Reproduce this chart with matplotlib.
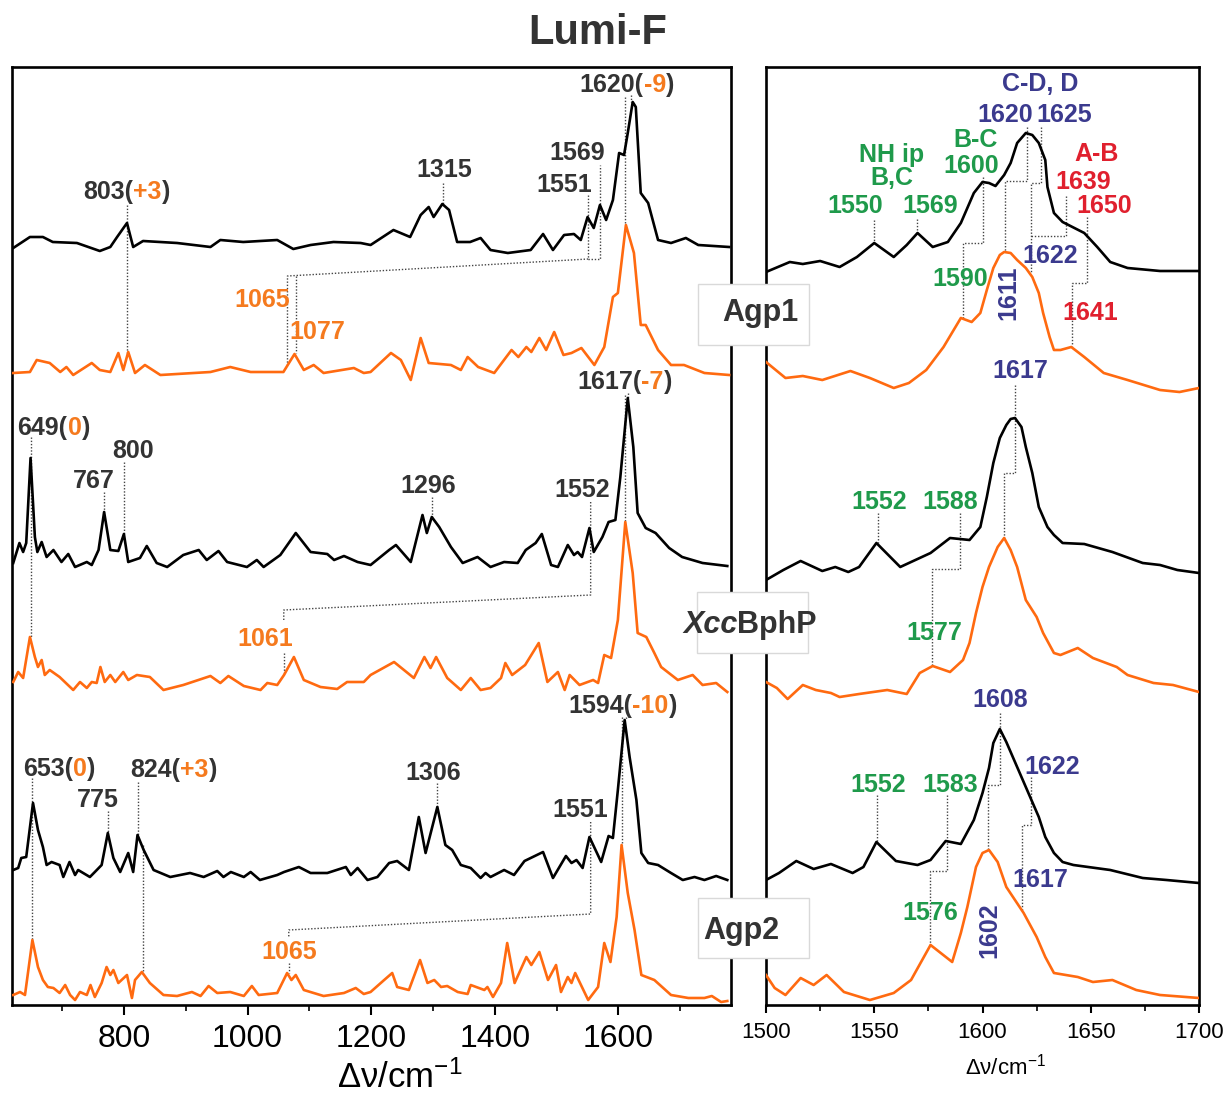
import numpy as np
import matplotlib.pyplot as plt
from matplotlib import font_manager
from matplotlib.patches import Rectangle

# ---- spectra: (wavenumber cm-1, relative intensity) ----
agp1_black_full = [(621, 7), (648, 18), (669, 18), (685, 13), (724, 12), (761, 4), (778, 8), (789, 18),
                   (805, 32), (815, 8), (831, 14), (886, 12), (940, 8), (956, 15), (993, 13), (1048, 15),
                   (1074, 6), (1102, 10), (1139, 13), (1183, 12), (1199, 10), (1236, 25), (1263, 18),
                   (1280, 40), (1293, 48), (1301, 38), (1315, 51), (1326, 45), (1339, 13), (1360, 13),
                   (1377, 17), (1393, 5), (1421, 2), (1458, 5), (1478, 21), (1494, 5), (1512, 20),
                   (1528, 21), (1539, 15), (1550, 38), (1560, 27), (1570, 50), (1580, 35), (1591, 55),
                   (1601, 102), (1609, 100), (1615, 122), (1623, 153), (1628, 148), (1636, 62),
                   (1648, 52), (1664, 15), (1685, 12), (1709, 17), (1729, 10), (1779, 8)]
agp1_orange_full = [(621, 7), (648, 8), (659, 20), (680, 17), (697, 8), (707, 13), (718, 5), (748, 17),
                    (761, 10), (778, 8), (791, 27), (799, 10), (807, 28), (818, 7), (834, 15), (859, 5),
                    (940, 8), (972, 13), (1005, 8), (1058, 8), (1066, 16), (1076, 26), (1091, 10),
                    (1107, 15), (1123, 7), (1172, 12), (1188, 7), (1199, 8), (1232, 27), (1248, 20),
                    (1264, 0), (1280, 42), (1293, 17), (1329, 15), (1345, 10), (1356, 23), (1373, 13),
                    (1399, 7), (1427, 30), (1438, 23), (1451, 33), (1459, 28), (1472, 42), (1483, 30),
                    (1496, 48), (1511, 25), (1524, 27), (1540, 32), (1561, 15), (1577, 33), (1591, 83),
                    (1599, 87), (1612, 155), (1625, 127), (1636, 55), (1644, 55), (1664, 30), (1685, 15),
                    (1706, 15), (1739, 7), (1779, 5)]
xcc_black_full = [(621, 7), (631, 27), (637, 18), (642, 27), (649, 112), (656, 33), (660, 18), (667, 28),
                  (675, 13), (686, 20), (699, 8), (710, 16), (721, 3), (740, 8), (748, 5), (759, 20),
                  (768, 58), (778, 20), (791, 19), (800, 36), (807, 8), (826, 12), (837, 24), (853, 7),
                  (870, 3), (896, 15), (921, 20), (934, 10), (953, 19), (967, 8), (999, 3), (1015, 10),
                  (1026, 3), (1053, 15), (1078, 37), (1102, 18), (1129, 16), (1140, 10), (1156, 14),
                  (1178, 8), (1199, 5), (1229, 20), (1240, 25), (1264, 8), (1283, 55), (1290, 37),
                  (1298, 53), (1310, 43), (1329, 23), (1348, 7), (1372, 13), (1393, 3), (1415, 8),
                  (1437, 7), (1450, 20), (1466, 27), (1476, 36), (1491, 5), (1502, 3), (1518, 25),
                  (1528, 15), (1534, 18), (1541, 13), (1553, 42), (1560, 18), (1574, 33), (1584, 48),
                  (1595, 50), (1603, 93), (1615, 172), (1624, 123), (1631, 57), (1644, 42), (1660, 37),
                  (1682, 22), (1703, 13), (1736, 7), (1776, 4)]
xcc_orange_full = [(621, 13), (629, 23), (637, 17), (648, 58), (656, 38), (661, 28), (667, 35), (672, 20),
                   (680, 25), (696, 18), (718, 5), (729, 13), (740, 7), (748, 13), (756, 12), (762, 28),
                   (769, 13), (778, 20), (786, 13), (799, 23), (807, 15), (821, 20), (842, 18), (864, 5),
                   (896, 10), (940, 19), (956, 12), (969, 19), (994, 9), (1021, 5), (1032, 12), (1048, 10),
                   (1059, 20), (1075, 38), (1091, 15), (1118, 8), (1145, 6), (1161, 13), (1188, 13),
                   (1199, 20), (1237, 33), (1253, 25), (1269, 17), (1286, 38), (1296, 27), (1305, 38),
                   (1323, 17), (1345, 5), (1361, 17), (1377, 5), (1393, 7), (1410, 17), (1417, 32),
                   (1428, 20), (1449, 30), (1471, 52), (1485, 13), (1502, 23), (1513, 5), (1521, 20),
                   (1537, 10), (1559, 15), (1567, 12), (1577, 40), (1588, 37), (1599, 75), (1611, 173),
                   (1623, 122), (1631, 62), (1645, 58), (1658, 42), (1669, 28), (1696, 15), (1720, 20),
                   (1736, 10), (1758, 12), (1776, 3)]
agp2_black_full = [(621, 13), (629, 15), (634, 25), (642, 26), (653, 80), (661, 53), (669, 36), (675, 18),
                   (683, 21), (696, 18), (702, 6), (712, 21), (721, 8), (726, 13), (745, 6), (753, 11),
                   (764, 18), (774, 50), (783, 25), (794, 11), (807, 30), (815, 11), (822, 48), (832, 33),
                   (848, 13), (875, 6), (907, 10), (929, 6), (951, 12), (961, 6), (973, 11), (994, 6),
                   (1005, 11), (1020, 3), (1048, 8), (1059, 11), (1083, 16), (1102, 10), (1129, 10),
                   (1159, 16), (1167, 8), (1178, 15), (1194, 3), (1210, 6), (1229, 20), (1242, 22),
                   (1261, 13), (1277, 66), (1288, 30), (1307, 76), (1320, 38), (1331, 33), (1345, 18),
                   (1361, 15), (1377, 5), (1385, 10), (1393, 6), (1415, 13), (1431, 8), (1448, 22),
                   (1478, 31), (1494, 5), (1515, 27), (1524, 20), (1532, 23), (1542, 15), (1553, 46),
                   (1572, 21), (1584, 47), (1591, 45), (1599, 93), (1610, 163), (1618, 126), (1629, 83),
                   (1637, 30), (1648, 20), (1664, 18), (1685, 10), (1704, 3), (1723, 6), (1739, 3),
                   (1758, 7), (1776, 3)]
agp2_orange_full = [(621, 10), (632, 13), (640, 10), (652, 65), (661, 38), (669, 25), (677, 18), (686, 17),
                    (696, 12), (705, 20), (713, 10), (721, 5), (729, 13), (740, 10), (746, 20), (753, 8),
                    (764, 22), (772, 38), (778, 30), (783, 35), (791, 22), (805, 30), (813, 7), (818, 25),
                    (829, 33), (842, 22), (864, 10), (886, 9), (910, 13), (924, 9), (937, 19), (951, 12),
                    (972, 13), (994, 9), (1007, 19), (1018, 10), (1048, 12), (1064, 32), (1071, 25),
                    (1078, 30), (1091, 15), (1107, 12), (1123, 9), (1156, 12), (1175, 17), (1188, 11),
                    (1199, 13), (1221, 25), (1234, 32), (1242, 18), (1261, 15), (1279, 45), (1291, 22),
                    (1302, 25), (1313, 18), (1323, 19), (1340, 13), (1356, 11), (1361, 20), (1383, 15),
                    (1388, 18), (1397, 8), (1410, 22), (1420, 62), (1432, 22), (1451, 48), (1459, 40),
                    (1472, 53), (1486, 25), (1499, 40), (1507, 13), (1518, 28), (1524, 22), (1530, 32),
                    (1551, 5), (1567, 18), (1577, 62), (1587, 43), (1597, 88), (1605, 160), (1615, 112),
                    (1626, 75), (1637, 30), (1658, 25), (1685, 10), (1713, 7), (1739, 7), (1751, 9),
                    (1766, 3), (1776, 4)]

agp1_black_zoom = [(1500, 8), (1511, 18), (1517, 16), (1525, 19), (1534, 13), (1542, 23), (1550, 37),
                   (1559, 23), (1565, 35), (1570, 47), (1577, 33), (1584, 38), (1590, 57), (1593, 72),
                   (1596, 87), (1600, 98), (1603, 97), (1606, 94), (1610, 105), (1613, 117), (1616, 137),
                   (1620, 147), (1623, 145), (1626, 137), (1629, 120), (1630, 93), (1633, 67), (1637, 58),
                   (1647, 47), (1653, 33), (1659, 18), (1667, 12), (1682, 9), (1700, 9)]
agp1_orange_zoom = [(1500, 33), (1509, 17), (1517, 19), (1526, 15), (1539, 24), (1548, 17), (1559, 7),
                    (1566, 12), (1574, 25), (1582, 48), (1590, 77), (1595, 73), (1599, 82), (1602, 105),
                    (1605, 127), (1608, 140), (1610, 143), (1613, 142), (1616, 135), (1620, 127),
                    (1623, 118), (1626, 102), (1628, 82), (1631, 58), (1633, 45), (1636, 45), (1641, 48),
                    (1647, 38), (1656, 22), (1667, 15), (1682, 5), (1691, 3), (1700, 7)]
xcc_black_zoom = [(1500, 5), (1508, 15), (1516, 24), (1526, 14), (1532, 18), (1538, 13), (1543, 18),
                  (1551, 42), (1562, 18), (1576, 32), (1585, 47), (1594, 45), (1599, 58), (1602, 88),
                  (1605, 122), (1608, 147), (1611, 160), (1613, 166), (1615, 167), (1618, 158),
                  (1620, 138), (1623, 112), (1626, 78), (1630, 58), (1633, 50), (1637, 42), (1647, 41),
                  (1660, 33), (1674, 22), (1682, 20), (1690, 15), (1700, 12)]
xcc_orange_zoom = [(1500, 23), (1505, 17), (1510, 6), (1517, 20), (1523, 15), (1530, 12), (1534, 8),
                   (1543, 11), (1556, 15), (1565, 11), (1571, 32), (1577, 39), (1585, 33), (1591, 45),
                   (1594, 62), (1597, 92), (1600, 118), (1603, 138), (1607, 158), (1610, 167),
                   (1613, 155), (1616, 138), (1620, 105), (1625, 88), (1628, 72), (1633, 52), (1636, 50),
                   (1644, 57), (1651, 47), (1662, 38), (1667, 30), (1679, 22), (1688, 20), (1700, 13)]
agp2_black_zoom = [(1500, 10), (1506, 17), (1514, 29), (1522, 21), (1530, 26), (1540, 17), (1545, 23),
                   (1551, 48), (1560, 29), (1570, 25), (1576, 30), (1583, 49), (1590, 46), (1596, 70),
                   (1600, 97), (1603, 122), (1605, 147), (1608, 161), (1611, 148), (1614, 133),
                   (1618, 113), (1622, 93), (1626, 73), (1629, 53), (1633, 37), (1637, 28), (1642, 25),
                   (1659, 20), (1674, 12), (1685, 10), (1700, 7)]
agp2_orange_zoom = [(1500, 30), (1504, 17), (1509, 10), (1516, 27), (1522, 20), (1528, 30), (1536, 13),
                    (1548, 5), (1559, 12), (1567, 25), (1576, 60), (1586, 43), (1590, 72), (1593, 98),
                    (1597, 138), (1600, 152), (1603, 155), (1607, 143), (1611, 118), (1619, 92),
                    (1625, 68), (1629, 48), (1633, 32), (1644, 28), (1651, 23), (1660, 25), (1671, 15),
                    (1682, 10), (1700, 7)]

left_ticks = [800, 1000, 1200, 1400, 1600]
right_ticks = [1500, 1550, 1600, 1650, 1700]
proteins = ['Agp1', 'XccBphP', 'Agp2']

# stacking offsets (top to bottom)
offsets_full = [750, 625, 435, 310, 122, 0]
offsets_zoom = [725, 610, 420, 300, 115, 0]

BLACK = '#000000'
ORANGE = '#ff6a10'
ORANGE_T = '#f57a1e'
GRAY = '#333333'
GREEN = '#1f9a4b'
BLUE = '#3b3a8e'
RED = '#e0202e'

names = {f.name for f in font_manager.fontManager.ttflist}
narrow = 'Liberation Sans Narrow' in names
tick_family = 'Liberation Sans Narrow' if narrow else 'Liberation Sans'
plt.rcParams['font.family'] = ['Liberation Sans', 'DejaVu Sans']
plt.rcParams['mathtext.fontset'] = 'custom'
plt.rcParams['mathtext.rm'] = 'Liberation Sans'
plt.rcParams['mathtext.it'] = 'Liberation Sans:italic'

W, H = 1226, 1102
fig = plt.figure(figsize=(W / 100, H / 100), dpi=100)


def frac(x0, y0, x1, y1):
    return [x0 / W, 1 - y1 / H, (x1 - x0) / W, (y1 - y0) / H]


axL = fig.add_axes(frac(12, 67, 731, 1005))
axR = fig.add_axes(frac(766, 67, 1199, 1005))

for ax in (axL, axR):
    ax.set_ylim(0, 938)
    ax.set_yticks([])
    for s in ax.spines.values():
        s.set_linewidth(1.9)

axL.set_xlim(619, 1782)
axL.set_xticks(left_ticks)
axL.set_xticks(np.arange(700, 1800, 200), minor=True)
axR.set_xlim(1500, 1700)
axR.set_xticks(right_ticks)
axR.set_xticks(np.arange(1525, 1700, 50), minor=True)

axL.tick_params(axis='x', which='major', direction='out', length=7, width=1.5, pad=7,
                labelsize=25 if narrow else 23)
axL.tick_params(axis='x', which='minor', direction='out', length=4, width=1.2)
axR.tick_params(axis='x', which='major', direction='out', length=6, width=1.5, pad=6,
                labelsize=19 if narrow else 16)
axR.tick_params(axis='x', which='minor', direction='out', length=4, width=1.2)
for lab in axL.get_xticklabels() + axR.get_xticklabels():
    lab.set_family(tick_family)

full = [agp1_black_full, agp1_orange_full, xcc_black_full, xcc_orange_full, agp2_black_full, agp2_orange_full]
zoom = [agp1_black_zoom, agp1_orange_zoom, xcc_black_zoom, xcc_orange_zoom, agp2_black_zoom, agp2_orange_zoom]
colors = [BLACK, ORANGE] * 3

for ax, spectra, offs in ((axL, full, offsets_full), (axR, zoom, offsets_zoom)):
    for pts, off, col in zip(spectra, offs, colors):
        a = np.array(pts, dtype=float)
        ax.plot(a[:, 0], a[:, 1] + off, color=col, lw=1.9, solid_joinstyle='round', zorder=3)

# ---- dotted leader lines ----
lead_kw = dict(color='#444444', lw=1.0, ls=(0, (1, 1.3)), zorder=2)
left_leaders = [
    [(805.6, 800), (805.6, 652)],
    [(1315.5, 822), (1315.5, 801)],
    [(1551, 810), (1551, 746), (1570.6, 746), (1570.6, 840)],
    [(1551, 746), (1064.6, 729), (1064.6, 640)],
    [(1077.6, 729.4), (1077.6, 652)],
    [(1620, 910), (1620, 903)],
    [(1611, 908), (1611, 782)],
    [(649, 568), (649, 368)],
    [(768, 513), (768, 493)],
    [(800, 543), (800, 471)],
    [(1298, 508), (1298, 488)],
    [(1555, 503), (1555, 410), (1058.6, 395), (1058.6, 385)],
    [(1058.6, 352), (1058.6, 332)],
    [(1616, 612), (1616, 607)],
    [(1611, 610), (1611, 483)],
    [(652, 227), (652, 65)],
    [(774, 194), (774, 172)],
    [(823.5, 223), (823.5, 170)],
    [(830.6, 160), (830.6, 33)],
    [(1306, 222), (1306, 198)],
    [(1555, 183), (1555, 91), (1066.7, 75), (1066.7, 67)],
    [(1066.7, 42), (1066.7, 32)],
    [(1605.7, 288), (1605.7, 160)],
    [(1612, 288), (1612, 285)],
]
right_leaders = [
    [(1550, 785), (1550, 762)],
    [(1569.9, 786), (1569.9, 773)],
    [(1600.1, 828), (1600.1, 762), (1590.9, 762), (1590.9, 687)],
    [(1620.4, 878), (1620.4, 824), (1610.4, 824), (1610.4, 753)],
    [(1627, 878), (1627, 822), (1622.3, 822), (1622.3, 732)],
    [(1638.4, 809), (1638.4, 769), (1622.3, 769)],
    [(1648.1, 788), (1648.1, 722), (1641.2, 722), (1641.2, 659)],
    [(1615, 620), (1615, 532), (1609.9, 532), (1609.9, 467)],
    [(1551.9, 492), (1551.9, 462)],
    [(1589.6, 492), (1589.6, 436), (1576.8, 436), (1576.8, 339)],
    [(1608.1, 292), (1608.1, 220), (1602.7, 220), (1602.7, 155)],
    [(1622.3, 228), (1622.3, 180), (1618.4, 180), (1618.4, 95)],
    [(1551.1, 210), (1551.1, 163)],
    [(1583.7, 210), (1583.7, 134), (1575.8, 134), (1575.8, 60)],
]
for ax, leaders in ((axL, left_leaders), (axR, right_leaders)):
    for seg in leaders:
        s = np.array(seg)
        ax.plot(s[:, 0], s[:, 1], **lead_kw)

# ---- peak labels ----
lab_kw = dict(fontsize=18, fontweight='bold', zorder=5)
left_labels = [
    ('1315', 1318, 835, GRAY), ('1551', 1512, 820, GRAY), ('1569', 1533, 852, GRAY),
    ('1065', 1024, 705, ORANGE_T), ('1077', 1113, 673, ORANGE_T),
    ('767', 752, 524, GRAY), ('800', 815, 554, GRAY), ('1061', 1029, 366, ORANGE_T),
    ('1296', 1292, 519, GRAY), ('1552', 1541, 515, GRAY),
    ('775', 757, 205, GRAY), ('1065', 1068, 53, ORANGE_T), ('1306', 1300, 232, GRAY),
    ('1551', 1538, 195, GRAY),
]
left_shift_labels = [
    ('803', '+3', 734, 813), ('1620', '-9', 1537, 920), ('1617', '-7', 1533, 623),
    ('649', '0', 628, 577), ('653', '0', 636.5, 236), ('824', '+3', 810, 235),
    ('1594', '-10', 1519, 299),
]
right_labels = [
    ('C-D, D', 1626.6, 921, BLUE, 0), ('1620', 1610.4, 890, BLUE, 0), ('1625', 1637.6, 890, BLUE, 0),
    ('B-C', 1597, 865, GREEN, 0), ('1600', 1594.7, 839, GREEN, 0), ('NH ip', 1558.2, 850, GREEN, 0),
    ('B,C', 1558.2, 827, GREEN, 0), ('1550', 1541.1, 799, GREEN, 0), ('1569', 1575.8, 799, GREEN, 0),
    ('A-B', 1652.9, 851, RED, 0), ('1639', 1646.4, 823, RED, 0), ('1650', 1656.1, 799, RED, 0),
    ('1622', 1631.2, 749, BLUE, 0), ('1590', 1589.6, 726, GREEN, 0), ('1641', 1649.7, 692, RED, 0),
    ('1611', 1611.8, 712, BLUE, 90), ('1617', 1617.3, 634, BLUE, 0),
    ('1552', 1552.2, 503, GREEN, 0), ('1588', 1585, 503, GREEN, 0), ('1577', 1577.6, 372, GREEN, 0),
    ('1608', 1608.1, 305, BLUE, 0), ('1622', 1632.1, 238, BLUE, 0), ('1617', 1626.6, 125, BLUE, 0),
    ('1552', 1551.7, 220, GREEN, 0), ('1583', 1585, 220, GREEN, 0), ('1576', 1575.8, 92, GREEN, 0),
    ('1602', 1603, 75, BLUE, 90),
]

for txt, x, y, c in left_labels:
    axL.text(x, y, txt, color=c, ha='center', va='center', **lab_kw)

for num, shift, x, y in left_shift_labels:
    t = axL.text(x, y, num + '(', color=GRAY, ha='left', va='center', **lab_kw)
    t = axL.annotate(shift, xy=(1, 0.5), xycoords=t, color=ORANGE_T, ha='left', va='center', **lab_kw)
    axL.annotate(')', xy=(1, 0.5), xycoords=t, color=GRAY, ha='left', va='center', **lab_kw)

for txt, x, y, c, rot in right_labels:
    axR.text(x, y, txt, color=c, ha='center', va='center', rotation=rot, **lab_kw)

# ---- protein name boxes spanning the gap ----
name_boxes = [(698, 284, 809, 345), (697, 592, 808, 653), (698, 898, 809, 958)]
name_pos = [(722, 313), (683, 625), (703, 931)]
for (x0, y0, x1, y1) in name_boxes:
    fig.add_artist(Rectangle((x0 / W, 1 - y1 / H), (x1 - x0) / W, (y1 - y0) / H,
                             transform=fig.transFigure, facecolor='white', edgecolor='#d9d9d9',
                             lw=1.0, zorder=10))
name_kw = dict(fontsize=22, fontweight='bold', color=GRAY, va='center', ha='left', zorder=11)
for name, (px, py) in zip(proteins, name_pos):
    if name.startswith('Xcc'):
        t = fig.text(px / W, 1 - py / H, 'Xcc', style='italic', **name_kw)
        fig.add_artist(plt.Annotation('BphP', xy=(1, 0.5), xycoords=t, **name_kw))
    else:
        fig.text(px / W, 1 - py / H, name, **name_kw)

# ---- title and axis labels ----
fig.text(598 / W, 1 - 33 / H, 'Lumi-F', ha='center', va='center', fontsize=30,
         fontweight='bold', color=GRAY)
fig.text(400 / W, 1 - 1078 / H, r'Δν/cm$^{-1}$', ha='center', va='center', fontsize=25,
         family=[tick_family, 'Liberation Sans', 'DejaVu Sans'])
fig.text(1005 / W, 1 - 1067 / H, r'Δν/cm$^{-1}$', ha='center', va='center', fontsize=16,
         family=[tick_family, 'Liberation Sans', 'DejaVu Sans'])

fig.savefig('out.png', dpi=100)
